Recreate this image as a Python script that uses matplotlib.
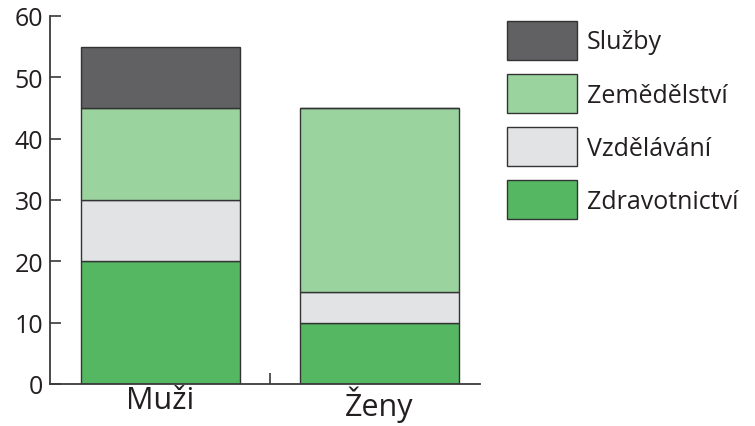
import numpy as np
import matplotlib
matplotlib.use('Agg')
import matplotlib.pyplot as plt
from matplotlib.patches import Patch

plt.rcParams['font.family'] = ['Open Sans', 'DejaVu Sans']

# data
skupiny = ['Muži', 'Ženy']
odvetvi = ['Zdravotnictví', 'Vzdělávání', 'Zemědělství', 'Služby']
hodnoty = {
    'Zdravotnictví': [20, 10],
    'Vzdělávání': [10, 5],
    'Zemědělství': [15, 30],
    'Služby': [10, 0],
}
barvy = {
    'Zdravotnictví': '#55b762',
    'Vzdělávání': '#e2e3e5',
    'Zemědělství': '#9bd39f',
    'Služby': '#616163',
}

fig = plt.figure(figsize=(7.55, 4.27), dpi=100)
ax = fig.add_axes([50 / 755, 1 - 385 / 427, 430 / 755, 368 / 427])

x = np.arange(len(skupiny))
spodek = np.zeros(len(skupiny))
for o in odvetvi:
    v = np.array(hodnoty[o], dtype=float)
    ax.bar(x, v, width=0.728, bottom=spodek, color=barvy[o],
           edgecolor='#333333', linewidth=1.0)
    spodek += v

ax.set_xlim(-0.506, 1.462)
ax.set_ylim(0, 60)
ax.set_yticks(range(0, 61, 10))
ax.set_xticks(x)
ax.set_xticklabels(skupiny, fontsize=22)
ax.set_xticks([0.5], minor=True)

for s in ['top', 'right']:
    ax.spines[s].set_visible(False)
for s in ['left', 'bottom']:
    ax.spines[s].set_color('#3a3a3a')
    ax.spines[s].set_linewidth(1.3)

ax.tick_params(axis='y', direction='in', length=8, width=1.2, color='#3a3a3a',
               labelsize=18, pad=5, labelcolor='#231f20')
ax.tick_params(axis='x', which='major', length=0, pad=1, labelcolor='#231f20')
ax.tick_params(axis='x', which='minor', direction='in', length=8, width=1.2,
               color='#3a3a3a')

handles = [Patch(facecolor=barvy[o], edgecolor='#333333', linewidth=1.0, label=o)
           for o in reversed(odvetvi)]
fig.legend(handles=handles, loc='upper left', bbox_to_anchor=(507 / 755, 1 - 22 / 427),
           frameon=False, fontsize=18, borderpad=0, borderaxespad=0,
           handlelength=2.8, handleheight=2.03, labelspacing=0.56,
           handletextpad=0.4, labelcolor='#231f20')

fig.savefig('out.png', dpi=100)
